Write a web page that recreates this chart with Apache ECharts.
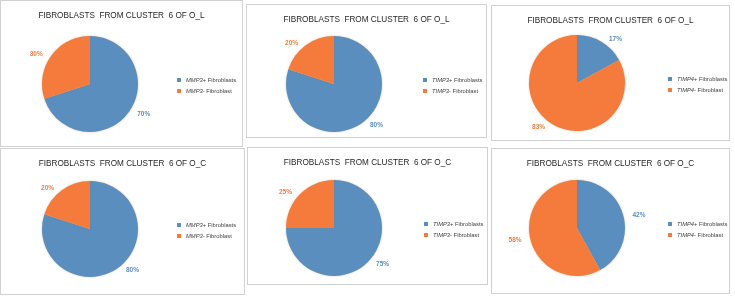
<!DOCTYPE html>
<html>
<head>
<meta charset="utf-8">
<script src="https://cdn.jsdelivr.net/npm/echarts@6/dist/echarts.min.js"></script>
<style>
  html, body { margin: 0; padding: 0; background: #ffffff; }
  body { width: 735px; height: 298px; position: relative; overflow: hidden; }
  .panel {
    position: absolute;
    box-sizing: border-box;
    border: 1px solid #d2d2d2;
    background: #ffffff;
  }
</style>
</head>
<body>
<div id="wrap"></div>
<script>
// 数据
const panelTitles = [
  "FIBROBLASTS  FROM CLUSTER  6 OF O_L",
  "FIBROBLASTS  FROM CLUSTER  6 OF O_L",
  "FIBROBLASTS  FROM CLUSTER  6 OF O_L",
  "FIBROBLASTS  FROM CLUSTER  6 OF O_C",
  "FIBROBLASTS  FROM CLUSTER  6 OF O_C",
  "FIBROBLASTS  FROM CLUSTER  6 OF O_C"
];
const genes = ["MMP3", "TIMP3", "TIMP4", "MMP3", "TIMP3", "TIMP4"];
const positivePct = [70, 80, 17, 80, 75, 42];
const negativePct = [30, 20, 83, 20, 25, 58];

// 面板位置 (left, top, width, height) 和饼图中心
const boxes = [
  [0, 0, 243, 147],
  [246, 4, 241, 134],
  [491, 5, 239, 136],
  [0, 148, 245, 147],
  [247, 147, 241, 138],
  [491, 148, 239, 146]
];
const centers = [
  [89, 83], [87, 79], [85, 77],
  [89, 80], [86, 80], [85, 79]
];

const blue = "#5a8ebf";
const orange = "#f57b3d";
const font = "'Liberation Sans', Arial, sans-serif";

const wrap = document.getElementById("wrap");

boxes.forEach(function (b, i) {
  const div = document.createElement("div");
  div.className = "panel";
  div.style.left = b[0] + "px";
  div.style.top = b[1] + "px";
  div.style.width = b[2] + "px";
  div.style.height = b[3] + "px";
  wrap.appendChild(div);

  const g = genes[i];
  const names = [g + "+ Fibroblasts", g + "- Fibroblast"];

  const chart = echarts.init(div, null, { renderer: "canvas" });
  chart.setOption({
    animation: false,
    color: [blue, orange],
    title: {
      text: panelTitles[i],
      left: "center",
      top: 6,
      textStyle: {
        fontFamily: font,
        fontSize: 8.2,
        fontWeight: "normal",
        color: "#262626"
      }
    },
    legend: {
      orient: "vertical",
      left: 176,
      top: centers[i][1] - 8,
      padding: 0,
      icon: "rect",
      itemWidth: 4,
      itemHeight: 4,
      itemGap: 3,
      data: names,
      formatter: function (name) {
        const sign = name.slice(g.length);
        return "{i|" + g + "}" + sign;
      },
      textStyle: {
        fontFamily: font,
        fontSize: 5.8,
        lineHeight: 8,
        color: "#404040",
        rich: {
          i: {
            fontFamily: font,
            fontSize: 5.8,
            fontStyle: "italic",
            color: "#404040"
          }
        }
      }
    },
    series: [
      {
        type: "pie",
        center: centers[i],
        radius: 48,
        startAngle: 90,
        clockwise: true,
        itemStyle: {
          borderWidth: 0,
          shadowBlur: 2,
          shadowColor: "rgba(170,120,70,0.45)"
        },
        label: {
          show: true,
          position: "outside",
          formatter: "{c}%",
          color: "inherit",
          fontFamily: font,
          fontSize: 6.5,
          fontWeight: "bold"
        },
        labelLine: { show: false, length: 3, length2: 1 },
        data: [
          { name: names[0], value: positivePct[i] },
          { name: names[1], value: negativePct[i] }
        ]
      }
    ]
  });
});
</script>
</body>
</html>
